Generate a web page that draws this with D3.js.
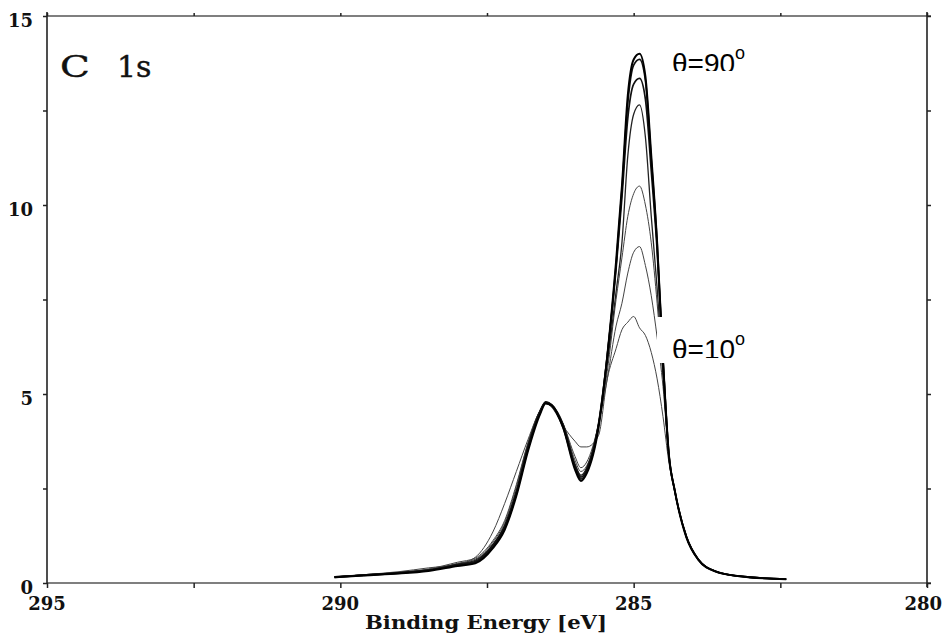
<!DOCTYPE html>
<html>
<head>
<meta charset="utf-8">
<script src="https://cdn.jsdelivr.net/npm/d3@7"></script>
<style>
  body { margin: 0; background: #fff; }
  svg { display: block; }
</style>
</head>
<body>
<svg id="chart" width="944" height="633"></svg>
<script>
// binding energy grid (eV)
const energies = [290.1, 289.6, 289.0, 288.5, 288.0, 287.7, 287.4, 287.2, 287.0, 286.8, 286.6, 286.5, 286.4, 286.2, 286.0, 285.9, 285.8, 285.6, 285.45, 285.3, 285.2, 285.1, 285.0, 284.9, 284.8, 284.7, 284.6, 284.5, 284.4, 284.3, 284.1, 283.9, 283.6, 283.2, 282.4];

// one curve per take-off angle, highest peak is theta=90, lowest theta=10
const curve1 = [0.15, 0.2, 0.25, 0.32, 0.45, 0.52, 0.92, 1.4, 2.3, 3.5, 4.45, 4.75, 4.7, 4.1, 3.0, 2.7, 2.9, 4.1, 6.0, 8.5, 10.5, 12.9, 13.85, 14.0, 13.4, 11.3, 9.0, 5.9, 3.4, 2.45, 1.2, 0.62, 0.3, 0.18, 0.1];
const curve2 = [0.16, 0.2, 0.26, 0.33, 0.47, 0.55, 0.95, 1.45, 2.35, 3.55, 4.5, 4.78, 4.7, 4.1, 3.05, 2.75, 2.95, 4.15, 6.0, 8.4, 10.4, 12.7, 13.7, 13.85, 13.3, 11.2, 9.0, 5.9, 3.4, 2.45, 1.22, 0.62, 0.3, 0.18, 0.1];
const curve3 = [0.15, 0.21, 0.27, 0.34, 0.48, 0.57, 1.0, 1.5, 2.4, 3.6, 4.5, 4.78, 4.72, 4.15, 3.1, 2.8, 3.0, 4.2, 6.0, 8.3, 10.2, 12.3, 13.2, 13.35, 12.8, 10.9, 8.8, 5.9, 3.4, 2.45, 1.22, 0.63, 0.31, 0.18, 0.1];
const curve4 = [0.16, 0.21, 0.27, 0.34, 0.5, 0.6, 1.02, 1.52, 2.45, 3.65, 4.55, 4.8, 4.72, 4.2, 3.15, 2.85, 3.05, 4.2, 5.8, 7.7, 9.0, 11.3, 12.4, 12.65, 11.8, 9.7, 7.8, 5.6, 3.4, 2.45, 1.22, 0.63, 0.31, 0.18, 0.1];
const curve5 = [0.16, 0.22, 0.28, 0.36, 0.52, 0.63, 1.08, 1.6, 2.55, 3.7, 4.55, 4.78, 4.7, 4.2, 3.25, 2.95, 3.1, 4.2, 5.6, 7.5, 8.6, 9.7, 10.3, 10.5, 10.0, 9.0, 7.4, 5.4, 3.35, 2.45, 1.22, 0.63, 0.31, 0.18, 0.1];
const curve6 = [0.16, 0.22, 0.28, 0.37, 0.55, 0.66, 1.12, 1.65, 2.6, 3.72, 4.55, 4.75, 4.68, 4.2, 3.35, 3.05, 3.2, 4.2, 5.4, 6.8, 7.4, 8.2, 8.75, 8.9, 8.4, 7.6, 6.5, 5.2, 3.35, 2.45, 1.22, 0.63, 0.31, 0.18, 0.1];
const curve7 = [0.17, 0.22, 0.3, 0.4, 0.5, 0.68, 1.35, 2.1, 2.95, 3.8, 4.55, 4.75, 4.65, 4.15, 3.75, 3.6, 3.6, 3.9, 5.4, 6.2, 6.7, 6.9, 7.05, 6.75, 6.55, 6.1, 5.4, 4.4, 3.2, 2.4, 1.2, 0.63, 0.31, 0.18, 0.1];

const curves = [curve1, curve2, curve3, curve4, curve5, curve6, curve7];
const strokeWidths = [2.0, 1.7, 1.7, 1.3, 1.0, 1.0, 1.0];
const strokeColors = ["#000", "#111", "#111", "#222", "#444", "#444", "#444"];

const xTicks = [295, 292.5, 290, 287.5, 285, 282.5, 280];
const xTickLabels = ["295", "", "290", "", "285", "", "280"];
const yTicks = [0, 2.5, 5, 7.5, 10, 12.5, 15];
const yTickLabels = ["0", "", "5", "", "10", "", "15"];

const mLeft = 47, mRight = 927, mTop = 16, mBottom = 583;

var svg = d3.select("#chart");

var x = d3.scaleLinear().domain([295, 280]).range([mLeft, mRight]);
var y = d3.scaleLinear().domain([0, 15]).range([mBottom, mTop]);

// frame
var frame = svg.append("g").attr("fill", "none");
frame.append("line").attr("x1", mLeft).attr("x2", mRight + 4).attr("y1", mTop).attr("y2", mTop)
  .attr("stroke", "#555").attr("stroke-width", 1.5);
frame.append("line").attr("x1", mLeft).attr("x2", mRight + 4).attr("y1", mBottom).attr("y2", mBottom)
  .attr("stroke", "#555").attr("stroke-width", 1.5);
frame.append("line").attr("x1", mLeft).attr("x2", mLeft).attr("y1", mTop - 4).attr("y2", mBottom)
  .attr("stroke", "#222").attr("stroke-width", 1.6);
frame.append("line").attr("x1", mRight).attr("x2", mRight).attr("y1", mTop - 4).attr("y2", mBottom + 4)
  .attr("stroke", "#222").attr("stroke-width", 1.6);

// axes, ticks only, labels drawn by hand below
var xAxisB = d3.axisBottom(x).tickValues(xTicks).tickSize(5).tickFormat("");
var xAxisT = d3.axisTop(x).tickValues(xTicks).tickSize(3).tickFormat("");
var yAxisL = d3.axisLeft(y).tickValues(yTicks).tickSize(4).tickFormat("");
var yAxisR = d3.axisRight(y).tickValues(yTicks).tickSize(4).tickFormat("");

function styleAxis(g) {
  g.select(".domain").remove();
  g.selectAll(".tick line").attr("stroke", "#222").attr("stroke-width", 1.5);
}
svg.append("g").attr("transform", "translate(0," + mBottom + ")").call(xAxisB).call(styleAxis);
svg.append("g").attr("transform", "translate(0," + mTop + ")").call(xAxisT).call(styleAxis);
svg.append("g").attr("transform", "translate(" + mLeft + ",0)").call(yAxisL).call(styleAxis);
svg.append("g").attr("transform", "translate(" + mRight + ",0)").call(yAxisR).call(styleAxis);

// tick labels (last one pulled in so it stays on the page)
svg.append("g").selectAll("text").data(xTicks).join("text")
  .attr("x", (d, i) => i == xTicks.length - 1 ? 942 : x(d))
  .attr("y", 610)
  .attr("text-anchor", (d, i) => i == xTicks.length - 1 ? "end" : "middle")
  .attr("font-family", "DejaVu Serif")
  .attr("font-weight", "bold")
  .attr("font-size", 18)
  .attr("fill", "#111")
  .text((d, i) => xTickLabels[i]);

svg.append("g").selectAll("text").data(yTicks).join("text")
  .attr("x", 33)
  .attr("y", d => y(d) + 11)
  .attr("text-anchor", "end")
  .attr("font-family", "DejaVu Serif")
  .attr("font-weight", "bold")
  .attr("font-size", 18)
  .attr("fill", "#111")
  .text((d, i) => yTickLabels[i]);

svg.append("text")
  .attr("x", 486).attr("y", 629)
  .attr("text-anchor", "middle")
  .attr("font-family", "DejaVu Serif")
  .attr("font-weight", "bold")
  .attr("font-size", 18)
  .attr("fill", "#111")
  .attr("textLength", 242)
  .attr("lengthAdjust", "spacingAndGlyphs")
  .text("Binding Energy [eV]");

// panel title, the C is drawn a bit wider as in the scan
svg.append("text")
  .attr("transform", "translate(60,77) scale(1.3,1)")
  .attr("font-family", "DejaVu Serif")
  .attr("font-size", 30)
  .attr("fill", "#111")
  .attr("stroke", "#111").attr("stroke-width", 0.4)
  .text("C");
svg.append("text")
  .attr("x", 117).attr("y", 77)
  .attr("font-family", "DejaVu Serif")
  .attr("font-size", 30)
  .attr("fill", "#111")
  .attr("stroke", "#111").attr("stroke-width", 0.4)
  .text("1s");

// spectra
var line = d3.line()
  .x((d, i) => x(energies[i]))
  .y(d => y(d))
  .curve(d3.curveMonotoneX);

svg.append("g").attr("fill", "none")
  .selectAll("path").data(curves.slice().reverse()).join("path")
  .attr("d", d => line(d))
  .attr("stroke", (d, i) => strokeColors[curves.length - 1 - i])
  .attr("stroke-width", (d, i) => strokeWidths[curves.length - 1 - i])
  .attr("stroke-linejoin", "round");

// angle labels on white boxes, bottoms cut off like the scan
const labelBoxes = [
  { text: "θ=90", x: 672, y: 44, w: 110, h: 27 },
  { text: "θ=10", x: 672, y: 330, w: 110, h: 28 }
];
var defs = svg.append("defs");
labelBoxes.forEach(function(b, i) {
  defs.append("clipPath").attr("id", "clip" + i)
    .append("rect").attr("x", b.x - 20).attr("y", b.y - 10).attr("width", b.w + 30).attr("height", b.h + 10);
  svg.append("rect")
    .attr("x", b.x - 15).attr("y", b.y - 13).attr("width", b.w + 12).attr("height", b.h + 18)
    .attr("fill", "#fff");
  var t = svg.append("text")
    .attr("clip-path", "url(#clip" + i + ")")
    .attr("x", b.x).attr("y", b.y + 29)
    .attr("font-family", "Liberation Sans")
    .attr("font-size", 28)
    .attr("fill", "#000")
    .text(b.text);
  t.append("tspan").attr("dy", -14).attr("font-size", 18).text("o");
});
</script>
</body>
</html>
